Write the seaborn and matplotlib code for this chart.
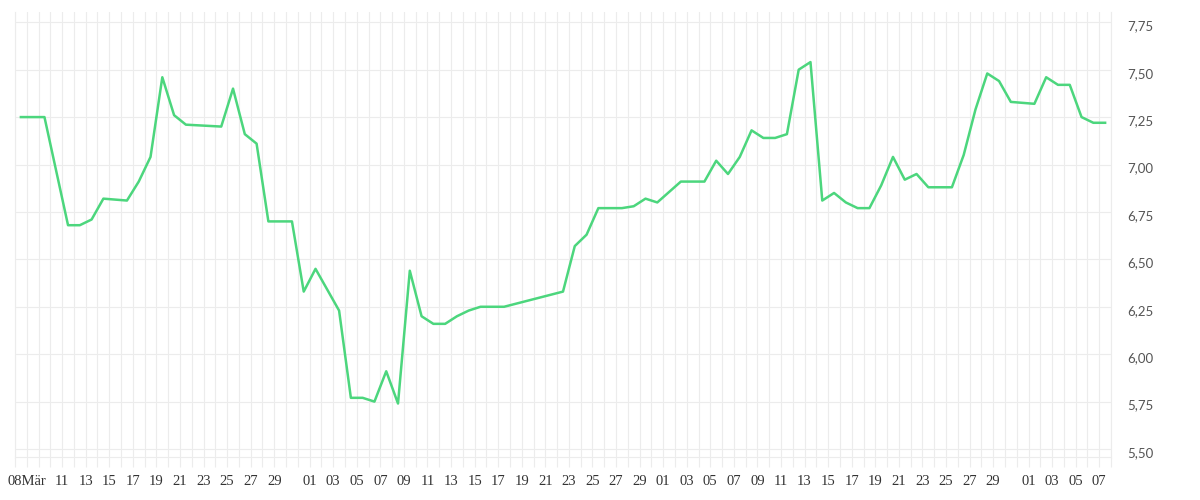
import pandas as pd
import numpy as np
import matplotlib
matplotlib.use('Agg')
import matplotlib.pyplot as plt
import matplotlib.dates as mdates
from matplotlib.ticker import FuncFormatter
from matplotlib.transforms import ScaledTranslation
import seaborn as sns

# 데이터 (일자별 가격)
dates = ['2023-03-07', '2023-03-09', '2023-03-11', '2023-03-12', '2023-03-13', '2023-03-14',
         '2023-03-16', '2023-03-17', '2023-03-18', '2023-03-19', '2023-03-20', '2023-03-21',
         '2023-03-24', '2023-03-25', '2023-03-26', '2023-03-27', '2023-03-28', '2023-03-30',
         '2023-03-31', '2023-04-01', '2023-04-03', '2023-04-04', '2023-04-05', '2023-04-06',
         '2023-04-07', '2023-04-08', '2023-04-09', '2023-04-10', '2023-04-11', '2023-04-12',
         '2023-04-13', '2023-04-14', '2023-04-15', '2023-04-17', '2023-04-22', '2023-04-23',
         '2023-04-24', '2023-04-25', '2023-04-27', '2023-04-28', '2023-04-29', '2023-04-30',
         '2023-05-02', '2023-05-04', '2023-05-05', '2023-05-06', '2023-05-07', '2023-05-08',
         '2023-05-09', '2023-05-10', '2023-05-11', '2023-05-12', '2023-05-13', '2023-05-14',
         '2023-05-15', '2023-05-16', '2023-05-17', '2023-05-18', '2023-05-19', '2023-05-20',
         '2023-05-21', '2023-05-22', '2023-05-23', '2023-05-25', '2023-05-26', '2023-05-27',
         '2023-05-28', '2023-05-29', '2023-05-30', '2023-06-01', '2023-06-02', '2023-06-03',
         '2023-06-04', '2023-06-05', '2023-06-06', '2023-06-07']
prices = [7.25, 7.25, 6.68, 6.68, 6.71, 6.82,
          6.81, 6.91, 7.04, 7.46, 7.26, 7.21,
          7.20, 7.40, 7.16, 7.11, 6.70, 6.70,
          6.33, 6.45, 6.23, 5.77, 5.77, 5.75,
          5.91, 5.74, 6.44, 6.20, 6.16, 6.16,
          6.20, 6.23, 6.25, 6.25, 6.33, 6.57,
          6.63, 6.77, 6.77, 6.78, 6.82, 6.80,
          6.91, 6.91, 7.02, 6.95, 7.04, 7.18,
          7.14, 7.14, 7.16, 7.50, 7.54, 6.81,
          6.85, 6.80, 6.77, 6.77, 6.89, 7.04,
          6.92, 6.95, 6.88, 6.88, 7.05, 7.29,
          7.48, 7.44, 7.33, 7.32, 7.46, 7.42,
          7.42, 7.25, 7.22, 7.22]

# x축 라벨 (첫 라벨에만 월 이름)
month_names = ['Jan', 'Feb', 'Mär', 'Apr', 'Mai', 'Jun', 'Jul', 'Aug', 'Sep', 'Okt', 'Nov', 'Dez']
y_ticks = [5.50, 5.75, 6.00, 6.25, 6.50, 6.75, 7.00, 7.25, 7.50, 7.75]

df = pd.DataFrame({'date': pd.to_datetime(dates) + pd.Timedelta(hours=12), 'price': prices})

grid_color = '#ececec'
line_color = '#4cd67d'

fig = plt.figure(figsize=(12, 5), dpi=100)
ax = fig.add_axes([15 / 1200, 1 - 457 / 500, 1096 / 1200, 445 / 500])

sns.lineplot(data=df, x='date', y='price', ax=ax, color=line_color, linewidth=1.8)

start = pd.Timestamp('2023-03-07')
end = pd.Timestamp('2023-06-08')
first_label = pd.Timestamp('2023-03-08')
ax.set_xlim(start, end)
ax.set_ylim(5.458, 7.804)

# x축: 하루 단위 그리드, 홀수 일에 라벨
ax.xaxis.set_major_locator(mdates.DayLocator())


def fmt_date(x, pos):
    d = mdates.num2date(x).replace(tzinfo=None)
    if d.date() == first_label.date():
        return f'{d.day:02d}{month_names[d.month - 1]}'
    if d > first_label + pd.Timedelta(days=2) and d.day % 2 == 1 and d.day != 31:
        return f'{d.day:02d}'
    return ''


ax.xaxis.set_major_formatter(FuncFormatter(fmt_date))
ax.tick_params(axis='x', length=7.2, width=0.8, color=grid_color, pad=6,
               labelsize=10.5, labelcolor='#333333')
for lab in ax.get_xticklabels():
    lab.set_family(['Liberation Serif', 'DejaVu Serif'])

# y축: 오른쪽
ax.yaxis.tick_right()
ax.set_yticks(y_ticks)
ax.yaxis.set_major_formatter(FuncFormatter(lambda v, p: f'{v:.2f}'.replace('.', ',')))
ax.tick_params(axis='y', length=0, pad=12, labelsize=9.5, labelcolor='#555555')
for lab in ax.get_yticklabels():
    lab.set_family(['Lato', 'DejaVu Sans'])
    lab.set_transform(lab.get_transform() + ScaledTranslation(0, -3 / 100, fig.dpi_scale_trans))

ax.grid(True, color=grid_color, linewidth=0.8)
ax.set_axisbelow(True)
for side in ['left', 'right', 'bottom']:
    ax.spines[side].set_color(grid_color)
    ax.spines[side].set_linewidth(0.8)
ax.spines['top'].set_visible(False)

ax.set_xlabel('')
ax.set_ylabel('')

plt.savefig('out.png', dpi=100)
